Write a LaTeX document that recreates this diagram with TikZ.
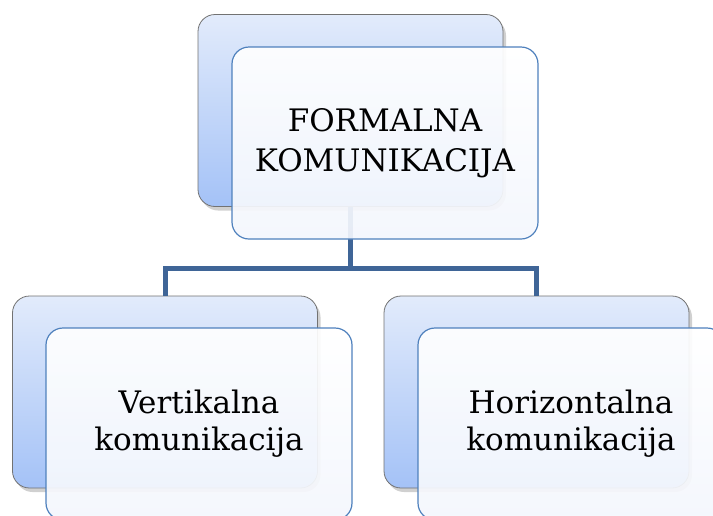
\documentclass[tikz,border=0pt]{standalone}
\usepackage{fontspec}
\setmainfont{DejaVu Serif}
\usetikzlibrary{shadows}
\definecolor{backtop}{HTML}{E2EBFB}
\definecolor{backbot}{HTML}{A4C2F7}
\definecolor{backline}{HTML}{727272}
\definecolor{frontline}{HTML}{4F81BD}
\definecolor{frontbot}{HTML}{F4F7FD}
\definecolor{conn}{HTML}{3F6597}
\tikzset{
  backbox/.style={draw=backline, line width=0.8pt, rounded corners=17pt,
    top color=backtop, bottom color=backbot,
    minimum width=305pt, minimum height=192pt, inner sep=0pt,
    drop shadow={shadow xshift=3pt, shadow yshift=-4pt, opacity=0.3, fill=black!60}},
  frontbox/.style={draw=frontline, line width=1.2pt, rounded corners=17pt,
    top color=white, bottom color=frontbot, fill opacity=0.92, text opacity=1,
    minimum width=306pt, minimum height=192pt, inner sep=0pt,
    align=center, font=\fontsize{31}{37}\selectfont},
  connector/.style={draw=conn, line width=5pt}
}
\begin{document}
\begin{tikzpicture}[x=1pt,y=-1pt]
\useasboundingbox[fill=white] (0,0) rectangle (713,515);
% back boxes
\node[backbox] (topback) at (350.5,110.5) {};
\node[backbox] (leftback) at (165,392) {};
\node[backbox] (rightback) at (536.5,392) {};
% connectors
\coordinate (mid) at (350.5,268);
\draw[connector] (topback.south) -- (mid);
\draw[connector] (leftback.north) |- (mid) -| (rightback.north);
% front boxes
\node[frontbox, font=\fontsize{31}{40}\selectfont] (topfront) at (385,143) {FORMALNA\\KOMUNIKACIJA};
\node[frontbox] (leftfront) at (199,424) {Vertikalna\\komunikacija};
\node[frontbox] (rightfront) at (571,424) {Horizontalna\\komunikacija};
\end{tikzpicture}
\end{document}
